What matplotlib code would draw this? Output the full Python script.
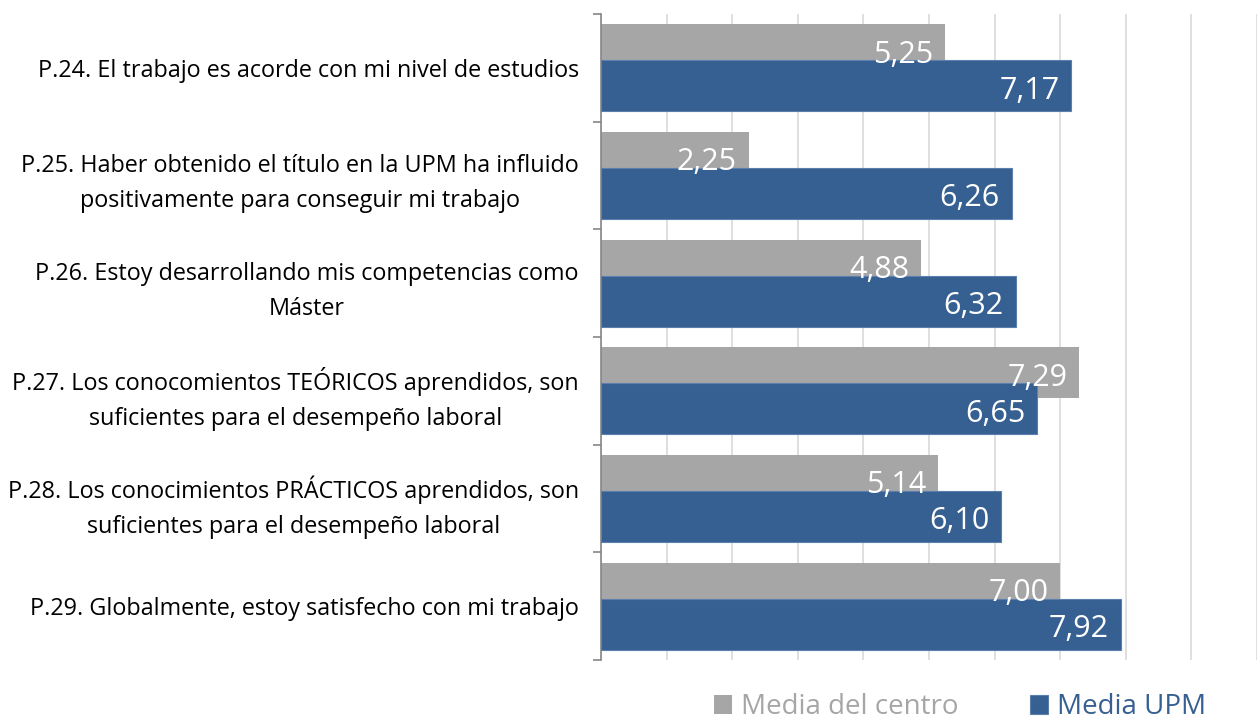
import numpy as np
import matplotlib
matplotlib.use('Agg')
from matplotlib import pyplot as plt
from matplotlib.ticker import FixedLocator

preguntas = ['P.24. El trabajo es acorde con mi nivel de estudios',
             'P.25. Haber obtenido el título en la UPM ha influido\npositivamente para conseguir mi trabajo',
             'P.26. Estoy desarrollando mis competencias como\nMáster',
             'P.27. Los conocomientos TEÓRICOS aprendidos, son\nsuficientes para el desempeño laboral',
             'P.28. Los conocimientos PRÁCTICOS aprendidos, son\nsuficientes para el desempeño laboral',
             'P.29. Globalmente, estoy satisfecho con mi trabajo']
media_centro = [5.25, 2.25, 4.88, 7.29, 5.14, 7.00]
media_upm = [7.17, 6.26, 6.32, 6.65, 6.10, 7.92]

gris = '#a6a6a6'
azul = '#376092'

plt.rcParams['font.family'] = ['Open Sans', 'DejaVu Sans']

fig = plt.figure(figsize=(12.6, 7.21), dpi=100)
ax = fig.add_axes([601 / 1260, 61 / 721, 656 / 1260, 646 / 721])

y = np.arange(len(preguntas))
h = 0.474
off = 0.167

b1 = ax.barh(y - off, media_centro, height=h, color=gris, zorder=2)
b2 = ax.barh(y + off, media_upm, height=h, color=azul, edgecolor='#5b80ad',
             linewidth=0.8, zorder=3)

# etiquetas de valor, coma decimal
for bars, vals in ((b1, media_centro), (b2, media_upm)):
    for r, v in zip(bars, vals):
        ax.text(v - 0.18, r.get_y() + r.get_height() / 2 + 0.045,
                f'{v:.2f}'.replace('.', ','), ha='right', va='center',
                color='white', fontsize=22, zorder=4)

ax.set_xlim(0, 10)
ax.set_ylim(len(preguntas) - 0.5, -0.5)
ax.set_xticks(np.arange(0, 11, 1))
ax.set_xticklabels([])
ax.tick_params(axis='x', length=0)
ax.grid(axis='x', color='#d9d9d9', linewidth=1.2, zorder=0)

ax.set_yticks(y)
ax.set_yticklabels(preguntas, fontsize=16.8, multialignment='center',
                   linespacing=1.6)
ax.tick_params(axis='y', which='major', length=0, pad=16)
ax.yaxis.set_minor_locator(FixedLocator(np.arange(-0.5, len(preguntas), 1)))
ax.tick_params(axis='y', which='minor', length=6, width=1.2, color='#868686')

for s in ('top', 'right', 'bottom'):
    ax.spines[s].set_visible(False)
ax.spines['left'].set_color('#868686')
ax.spines['left'].set_linewidth(1.2)

leg = fig.legend([b1, b2], ['Media del centro', 'Media UPM'], loc='center',
                 bbox_to_anchor=(960 / 1260, 1 - 707 / 721), ncol=2, frameon=False,
                 fontsize=20, handlelength=0.65, handleheight=0.65,
                 handletextpad=0.3, columnspacing=2.6)
for t, c in zip(leg.get_texts(), ('#a6a6a6', azul)):
    t.set_color(c)

fig.savefig('out.png', dpi=100)
